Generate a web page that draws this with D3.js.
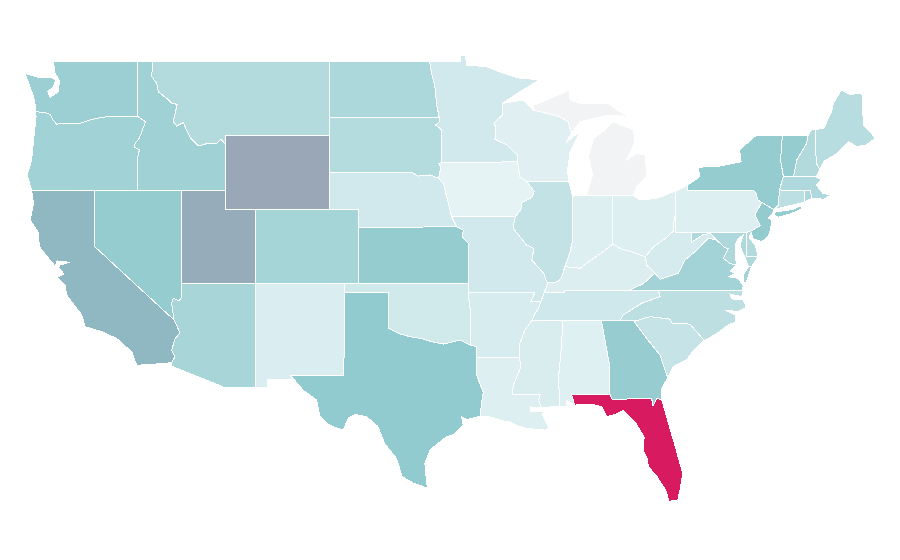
<!DOCTYPE html>
<html><head><meta charset="utf-8">
<style>html,body{margin:0;background:#fff}svg{display:block}</style>
<script src="https://cdn.jsdelivr.net/npm/d3@7/dist/d3.min.js"></script>
</head><body><svg id="map" width="900" height="560"></svg>
<script>
const rev = a => a.slice().reverse();
// shared borders [lon, lat]
const columbia=[[-123.95,46.26],[-123.4,46.22],[-122.95,46.1],[-122.78,45.81],[-122.53,45.59],[-121.97,45.63],[-120.95,45.63],[-120.06,45.86],[-119.05,46],[-117.03,46]];
const snake=[[-117.03,46],[-116.88,45.92],[-116.5,45.72],[-116.67,45.37],[-116.92,44.84],[-117.2,44.56],[-117.25,44.35],[-116.92,44.19],[-117.03,43.83],[-117.03,42]];
const idMt=[[-116.05,49],[-116.07,48.15],[-115.75,47.79],[-115.64,47.34],[-115.07,46.98],[-114.73,46.71],[-114.35,46.66],[-114.5,46.17],[-114.62,45.72],[-114.39,45.49],[-113.94,45.67],[-113.67,45.18],[-113.44,44.82],[-112.92,44.41],[-112.4,44.52],[-111.68,44.55],[-111.4,44.77],[-111.05,44.47]];
const redN=[[-97.23,49],[-97.1,48.33],[-96.87,47.6],[-96.75,46.62],[-96.58,45.95]];
const mnSd=[[-96.58,45.95],[-96.58,45.72],[-96.82,45.54],[-96.45,45.3],[-96.45,43.5]];
const bigSioux=[[-96.45,43.5],[-96.6,43.47],[-96.48,43.2],[-96.62,42.66]];
const neSd=[[-104.05,43],[-98.45,42.98],[-98,42.78],[-97.2,42.84],[-96.62,42.66]];
const missouriNe=[[-96.62,42.66],[-96.3,42.4],[-96.14,41.85],[-95.9,41.13],[-95.75,40.6]];
const neMo=[[-95.75,40.6],[-95.4,40.04]];
const ksMo=[[-95.4,40.04],[-94.95,39.86],[-95.02,39.5],[-94.62,39.15],[-94.62,37]];
const redRiver=[[-100,34.55],[-99.24,34.24],[-98.56,34.1],[-97.78,34],[-97.1,33.83],[-96.3,33.7],[-95.15,33.92],[-94.47,33.65]];
const coRiver=[[-114.05,36.26],[-114.23,36.03],[-114.62,36.17],[-114.73,35.9],[-114.57,35]];
const caAz=[[-114.57,35],[-114.16,34.3],[-114.5,34],[-114.73,33.38],[-114.5,33],[-114.73,32.72]];
const missIa=[[-91.27,43.55],[-91.1,42.74],[-90.64,42.5]];
const missIlIa=[[-90.64,42.5],[-90.13,41.94],[-90.3,41.63],[-90.98,41.34],[-90.98,41.04],[-91.4,40.6]];
const missIlMo=[[-91.4,40.6],[-91.48,40.4],[-91.55,39.95],[-90.65,39.05],[-90.15,38.87],[-90.3,38.24],[-89.5,37.53],[-89.28,37.07],[-89.2,37]];
const missSouth=[[-89.68,36],[-89.85,35.63],[-90.08,35.35],[-90.3,34.98]];
const missAr=[[-90.3,34.98],[-90.76,34.46],[-91.1,33.74],[-91.15,33]];
const missLa=[[-91.15,33],[-91.03,32.47],[-91.55,31.48],[-91.62,31]];
const pearl=[[-89.73,31],[-89.83,30.65],[-89.63,30.25]];
const ohioIl=[[-89.2,37],[-88.5,37.07],[-88.27,37.34],[-88.05,37.88]];
const wabash=[[-88.05,37.88],[-87.7,38.7],[-87.53,39.3],[-87.53,41.7]];
const ohioIn=[[-88.05,37.88],[-87,37.8],[-86.45,38.14],[-85.45,38.7],[-84.82,39.1]];
const ohioOh=[[-84.82,39.1],[-84.3,38.87],[-83.2,38.6],[-82.6,38.4]];
const ohioWv=[[-82.6,38.4],[-82.05,38.95],[-81.25,39.4],[-80.7,39.8],[-80.62,40.6],[-80.52,40.62]];
const kyWv=[[-82.6,38.4],[-82.5,37.97],[-81.95,37.54]];
const kyVa=[[-81.95,37.54],[-82.7,36.98],[-83.68,36.6]];
const vaWv=[[-81.95,37.54],[-81.6,37.2],[-80.36,37.52],[-79.9,38.24],[-79.1,38.78],[-78.33,39.42],[-77.76,39.32]];
const potomac=[[-79.48,39.2],[-78.7,39.6],[-78.2,39.69],[-77.76,39.32]];
const potomacLow=[[-77.76,39.32],[-77.2,38.9],[-76.97,38.87],[-77.3,38.33],[-76.85,38.05],[-76.4,37.97]];
const ncTn=[[-81.7,36.59],[-81.6,36.27],[-82.85,35.9],[-84.1,35.27],[-84.3,34.98]];
const ncSc=[[-83.1,34.98],[-82.3,35.18],[-80.93,35.05],[-80.77,34.82],[-79.57,34.78],[-78.6,33.9]];
const gaSc=[[-83.35,34.9],[-82.6,34.1],[-81.6,33.1],[-81.15,32.03],[-81.06,31.9]];
const gaFl=[[-85,31],[-84.85,30.71],[-82.17,30.76],[-82.07,30.36],[-81.83,30.76],[-81.48,30.68]];
const alGa=[[-85.58,34.98],[-85,32.47],[-85.06,31.57],[-85,31]];
const paNj=[[-74.7,41.36],[-75.15,40.68],[-74.8,40.1],[-75.45,39.8]];
const paNy=[[-79.76,42.27],[-79.76,42],[-75.28,42],[-75.05,41.85],[-75,41.5],[-74.7,41.36]];
const nyNe=[[-73.3,45],[-73.42,43.65],[-73.23,42.75],[-73.5,42.03],[-73.57,41.2],[-73.87,40.97]];
const vtNh=[[-71.55,45],[-71.65,44.55],[-72.32,43.65],[-72.55,42.73]];
const wiMi=[[-90.2,46.6],[-90.2,46.35],[-88.4,45.99],[-87.85,45.72],[-87.6,45.09]];
const wiMn=[[-92.28,46.71],[-92.28,46.08],[-92.9,45.63],[-92.74,45.45],[-92.8,44.77],[-92,44.46],[-91.3,43.92],[-91.27,43.55]];

// state outlines, each a list of rings
const Washington=[[[-117.03,49],[-122.76,49],[-122.65,48.33],[-122.42,48.07],[-122.35,47.88],[-122.42,47.34],[-122.98,47.04],[-123.14,47.34],[-122.76,47.61],[-122.58,47.97],[-122.98,48.12],[-123.78,48.12],[-124.68,48.33],[-124.34,47.6],[-124.1,47.07],[-123.99,46.62],...columbia]];
const Oregon=[[...columbia,...snake.slice(1),[-124.23,42],[-124.53,42.84],[-124.23,43.65],[-124.1,44.73],[-123.93,45.99]]];
const Idaho=[[[-117.03,49],...idMt,[-111.05,42],...rev(snake)]];
const Montana=[[[-116.05,49],[-104.05,49],[-104.05,45],[-111.05,45],...rev(idMt)]];
const Wyoming=[[[-111.05,45],[-104.05,45],[-104.05,41],[-111.05,41]]];
const NorthDakota=[[[-104.05,49],...redN,[-104.05,45.95]]];
const SouthDakota=[[[-104.05,45.95],...mnSd,...bigSioux,...rev(neSd)]];
const Nebraska=[[...neSd,...missouriNe,...neMo,[-102.05,40],[-102.05,41],[-104.05,41]]];
const Kansas=[[[-102.05,40],[-95.4,40.04],...ksMo,[-102.05,37]]];
const Colorado=[[[-109.05,41],[-102.05,41],[-102.05,37],[-109.05,37]]];
const Utah=[[[-114.05,42],[-111.05,42],[-111.05,41],[-109.05,41],[-109.05,37],[-114.05,37]]];
const Nevada=[[[-120,42],[-114.05,42],...coRiver,[-120,39]]];
const California=[[[-124.23,42],[-120,42],[-120,39],...caAz,[-115.07,32.66],[-117.1,32.55],[-117.44,33.28],[-118.46,34],[-119.47,34.37],[-120.6,34.64],[-120.83,35.27],[-121.85,36.35],[-121.97,36.9],[-122.5,37.3],[-122.04,37.48],[-122.4,37.85],[-122.3,37.97],[-121.63,38.12],[-122.49,38.19],[-122.65,37.92],[-122.98,38.24],[-123.7,38.96],[-123.8,39.77],[-124.34,40.4],[-124.1,41.3]]];
const Arizona=[[[-114.05,37],[-109.05,37],[-109.05,31.33],[-111.07,31.33],[-114.73,32.5],...rev(caAz),...rev(coRiver)]];
const NewMexico=[[[-109.05,37],[-103.02,37],[-103.02,33.7],[-103.06,32],[-106.65,32],[-106.53,31.8],[-108.2,31.8],[-108.2,31.33],[-109.05,31.33]]];
const Oklahoma=[[[-103.02,37],[-94.62,37],[-94.62,36.5],[-94.47,35.5],...rev(redRiver),[-100,36.5],[-103.02,36.5]]];
const Texas=[[[-103.02,36.5],[-100,36.5],...redRiver,[-94.04,33.55],[-94.04,32],[-93.59,31.1],[-93.7,30.58],[-93.8,29.8],[-94.72,29.62],[-95.05,29.75],[-94.95,29.3],[-95.6,28.8],[-96.07,28.7],[-97.2,27.98],[-97.55,27.25],[-97.43,26.17],[-97.32,25.9],[-98.3,26.17],[-99.1,26.53],[-99.46,27.5],[-100.26,28.3],[-100.75,29.25],[-101.5,29.77],[-102.3,29.9],[-102.75,29.7],[-103.1,29.05],[-104,29.3],[-104.67,29.78],[-104.9,30.68],[-105.8,31.2],[-106.65,32],[-103.06,32],[-103.02,33.7]]];
const Minnesota=[[...redN,...mnSd,[-91.27,43.55],...rev(wiMn),[-91.1,47.34],[-89.74,48],[-91.1,48.06],[-92.35,48.37],[-93.36,48.69],[-94.7,48.78],[-94.83,49.32],[-95.1,49.32],[-95.15,49]]];
const Iowa=[[[-96.45,43.5],...missIa,...missIlIa.slice(1),[-95.75,40.6],...rev(missouriNe),...rev(bigSioux)]];
const Missouri=[[[-95.75,40.6],...missIlMo,[-89.45,36.5],[-89.68,36],[-90.35,36],[-90.08,36.5],[-94.62,36.5],[-94.62,37],...rev(ksMo)]];
const Arkansas=[[[-94.62,36.5],[-90.08,36.5],[-90.35,36],...missSouth,...missAr.slice(1),[-94.04,33],[-94.04,33.55],[-94.47,33.65],[-94.47,35.5]]];
const Louisiana=[[[-94.04,33],...missLa,...pearl,[-89.85,30.25],[-90.4,30.3],[-90.35,30.05],[-89.8,30.05],[-89.4,30.05],[-89.6,29.9],[-89.4,29.6],[-89.13,29.15],[-89.4,29.05],[-90.2,29.1],[-90.7,29.15],[-91.3,29.3],[-91.8,29.5],[-92.3,29.55],[-93.2,29.78],[-93.8,29.8],[-93.7,30.58],[-93.59,31.1],[-94.04,32]]];
const Mississippi=[[...missAr,...missLa.slice(1),...pearl,[-88.43,30.35],[-88.47,32],[-88.27,33.74],[-88.2,34.98]]];
const Alabama=[[[-88.2,34.98],...alGa,[-87.6,31],[-87.4,30.4],[-87.93,30.66],[-87.9,30.3],[-88.43,30.35],[-88.47,32],[-88.27,33.74]]];
const Georgia=[[[-85.58,34.98],[-83.1,34.98],...gaSc,[-81.48,31.3],[-81.48,30.68],...rev(gaFl),...rev(alGa).slice(1,-1)]];
const Florida=[[[-87.6,31],...gaFl,[-80.9,29.07],[-80.67,28.45],[-80.25,27.25],[-80.06,26.7],[-80.25,25.8],[-80.4,25.27],[-81,25.2],[-81.2,25.8],[-81.8,26.53],[-82.37,27.06],[-82.5,27.6],[-82.72,27.88],[-82.68,28.68],[-83.3,29.5],[-84.1,30.1],[-84.65,29.9],[-85.2,29.77],[-85.55,30.3],[-86.2,30.45],[-87.4,30.4]]];
const SouthCarolina=[[[-83.35,34.9],[-83.1,34.98],...ncSc.slice(1),[-79.37,33.3],[-79.8,32.84],[-80.7,32.48],[-81.06,31.9],...rev(gaSc).slice(1)]];
const NorthCarolina=[[[-81.7,36.59],[-75.95,36.57],[-76.06,36.26],[-76.85,36.4],[-76.74,36.14],[-75.95,36.08],[-75.8,35.8],[-75.84,35.63],[-76.3,35.45],[-77.2,35.54],[-76.5,35.27],[-76.5,34.9],[-76.97,34.73],[-77.87,34.2],[-78.6,33.9],...rev(ncSc),...rev(ncTn)]];
const Tennessee=[[[-89.45,36.5],[-88.07,36.5],[-88.05,36.6],[-83.68,36.6],[-81.7,36.59],...ncTn,[-90.3,34.98],...rev(missSouth).slice(1)]];
const Kentucky=[[[-89.2,37],...ohioIl,...ohioIn.slice(1),...ohioOh.slice(1),...kyWv.slice(1),...kyVa.slice(1),[-88.05,36.6],[-88.07,36.5],[-89.45,36.5]]];
const Illinois=[[[-90.64,42.5],[-87.8,42.5],[-87.53,41.7],...rev(wabash).slice(1),...rev(ohioIl).slice(1),...rev(missIlMo).slice(1),...rev(missIlIa).slice(1)]];
const Indiana=[[...wabash,[-86.6,41.72],[-84.8,41.73],...rev(ohioIn)]];
const Ohio=[[[-84.8,41.73],[-83.4,41.73],[-83,41.49],[-81.87,41.57],[-80.52,41.98],[-80.52,40.62],[-80.62,40.6],...rev(ohioWv).slice(2),...rev(ohioOh)]];
const Michigan=[[[-86.6,41.72],[-83.4,41.73],[-83.2,42.2],[-82.5,42.75],[-82.6,43.92],[-83.2,44],[-83.85,43.65],[-83.3,44.64],[-83.4,45.27],[-84.76,45.72],[-85.33,45.27],[-86.1,44.82],[-86.45,43.83],[-86.17,42.84]],
 [[-90.2,46.6],[-88.5,47.16],[-87.75,47.43],[-87.7,46.9],[-87.03,46.71],[-85.1,46.71],[-84.2,46.17],[-83.6,46],[-85.1,46.08],[-87.03,45.72],[-87.6,45.09],[-87.85,45.72],[-88.4,45.99],[-90.2,46.35]]];
const Wisconsin=[[...wiMn,...missIa.slice(1),[-87.8,42.5],[-87.87,43.1],[-87.7,44.1],[-87.03,45.18],[-87.98,44.6],...rev(wiMi).slice(0,-1),[-90.87,46.89]]];
const WestVirginia=[[[-80.52,40.62],[-80.52,39.75],[-79.48,39.75],...potomac,...rev(vaWv),...rev(kyWv).slice(1),...ohioWv.slice(1)]];
const Virginia=[[[-81.7,36.59],[-83.68,36.6],...rev(kyVa).slice(1),...vaWv.slice(1),...potomacLow.slice(1),[-76.85,37.65],[-76.5,37.52],[-76.97,37.34],[-76.3,37.25],[-75.95,36.84],[-76,36.62],[-75.95,36.57]],
 [[-75.6,37.88],[-75.39,37.88],[-75.73,37.07],[-75.95,36.98],[-75.95,37.43]]];
const Maryland=[[[-79.48,39.75],[-75.72,39.75],[-75.72,38.42],[-74.93,38.42],[-75.39,37.88],[-75.6,37.88],[-75.84,38.4],[-76.06,38.78],[-76.17,39.05],[-75.95,39.6],[-76.3,39.4],[-76.5,39.05],[-76.5,38.51],...rev(potomacLow),...rev(potomac).slice(1)]];
const Delaware=[[[-75.72,39.75],[-75.39,39.77],[-75.55,39.45],[-75.15,39.05],[-74.93,38.42],[-75.72,38.42]]];
const Pennsylvania=[[[-80.52,41.98],...paNy,...paNj.slice(1),[-75.72,39.75],[-80.52,39.75]]];
const NewJersey=[[...paNj,[-75.27,39.38],[-74.7,39.23],[-74.3,39.5],[-74.14,39.77],[-74,40.4],[-74.25,40.5],[-74,40.7],[-73.87,40.97]]];
const NewYork=[[[-79.76,42.27],[-78.9,42.75],[-79,43.26],[-77.65,43.3],[-76.1,43.55],[-76.2,44.2],[-75.05,45],...nyNe,...rev(paNy).slice(0,-1)],
 [[-73.87,40.68],[-73.75,40.85],[-72.6,40.97],[-72.1,41.16],[-71.95,41.03],[-72.7,40.75],[-73.6,40.55]]];
const Vermont=[[[-73.3,45],[-71.55,45],...vtNh,[-73.23,42.75],[-73.42,43.65]]];
const NewHampshire=[[[-71.55,45],[-71.33,45.27],[-71.07,45.3],[-71,43.47],[-70.75,43.15],[-71,42.73],...rev(vtNh)]];
const Maine=[[[-71.07,45.3],[-70.5,45.36],[-69.95,46.26],[-69.85,46.7],[-69.3,47.43],[-68.7,47.2],[-67.9,47.25],[-67.8,45.55],[-67.35,45.18],[-67,44.82],[-67.6,44.46],[-68.25,44.37],[-68.8,44.64],[-69.6,44],[-70.5,43.56],[-70.75,43.15],[-71,43.47]]];
const Massachusetts=[[[-73.23,42.75],[-71,42.73],[-70.63,42.57],[-71,42.3],[-70.55,41.85],[-70.05,41.76],[-70.5,41.5],[-70.85,41.57],[-71.3,41.57],[-71.4,41.98],[-71.8,41.98],[-73.5,42.03]]];
const Connecticut=[[[-73.5,42.03],[-71.8,41.98],[-71.8,41.37],[-73.57,41.03],[-73.87,40.97],[-73.57,41.2]]];
const RhodeIsland=[[[-71.8,41.98],[-71.4,41.98],[-71.3,41.57],[-71.75,41.4],[-71.8,41.37]]];

const stateNames=["Washington","Oregon","California","Idaho","Nevada","Montana","Wyoming","Utah","Arizona","Colorado","New Mexico","North Dakota","South Dakota","Nebraska","Kansas","Oklahoma","Texas","Minnesota","Iowa","Missouri","Arkansas","Louisiana","Wisconsin","Illinois","Michigan","Indiana","Ohio","Kentucky","Tennessee","Mississippi","Alabama","Georgia","Florida","South Carolina","North Carolina","Virginia","West Virginia","Maryland","Delaware","Pennsylvania","New Jersey","New York","Connecticut","Rhode Island","Massachusetts","Vermont","New Hampshire","Maine"];
const stateRings=[Washington,Oregon,California,Idaho,Nevada,Montana,Wyoming,Utah,Arizona,Colorado,NewMexico,NorthDakota,SouthDakota,Nebraska,Kansas,Oklahoma,Texas,Minnesota,Iowa,Missouri,Arkansas,Louisiana,Wisconsin,Illinois,Michigan,Indiana,Ohio,Kentucky,Tennessee,Mississippi,Alabama,Georgia,Florida,SouthCarolina,NorthCarolina,Virginia,WestVirginia,Maryland,Delaware,Pennsylvania,NewJersey,NewYork,Connecticut,RhodeIsland,Massachusetts,Vermont,NewHampshire,Maine];
const stateValues=[45.2,42,60,42.5,48.4,32.3,70,67,38.8,39.3,11.4,36.1,31.8,16.2,48.9,16.8,50,16.2,5,16.2,13,9.8,8.2,24.3,0,9.8,9.8,10.4,17.3,12,8.75,47.3,100,22.1,27,40.9,14.1,35,32.3,9.8,49.5,48.4,28,35.5,33.9,48.9,32.9,30.2];

const colorStops=[0,5,50,60,70,100];
const colorRange=["#f2f3f5","#e6f3f5","#92cbcf","#8fb8c2","#9aa7b7","#d81b60"];
const color=d3.scaleLinear().domain(colorStops).range(colorRange);
const x=d3.scaleLinear().domain([-120,-109.05]).range([94,255.4]);
const y=d3.scaleLinear().domain([49,37]).range([61,283]);
const path=d3.geoPath(d3.geoTransform({point(lon,lat){this.stream.point(x(lon),y(lat));}}));
const closeRing=r=>[...r,r[0]];
const features=stateNames.map((name,i)=>({type:"Feature",properties:{name,value:stateValues[i]},geometry:{type:"MultiPolygon",coordinates:stateRings[i].map(r=>[closeRing(r)])}}));
d3.select("#map").selectAll("path").data(features).join("path")
  .attr("d",path)
  .attr("fill",d=>color(d.properties.value))
  .attr("stroke","#fff").attr("stroke-width",1)
  .attr("shape-rendering","crispEdges")
  .append("title").text(d=>d.properties.name);
</script></body></html>
